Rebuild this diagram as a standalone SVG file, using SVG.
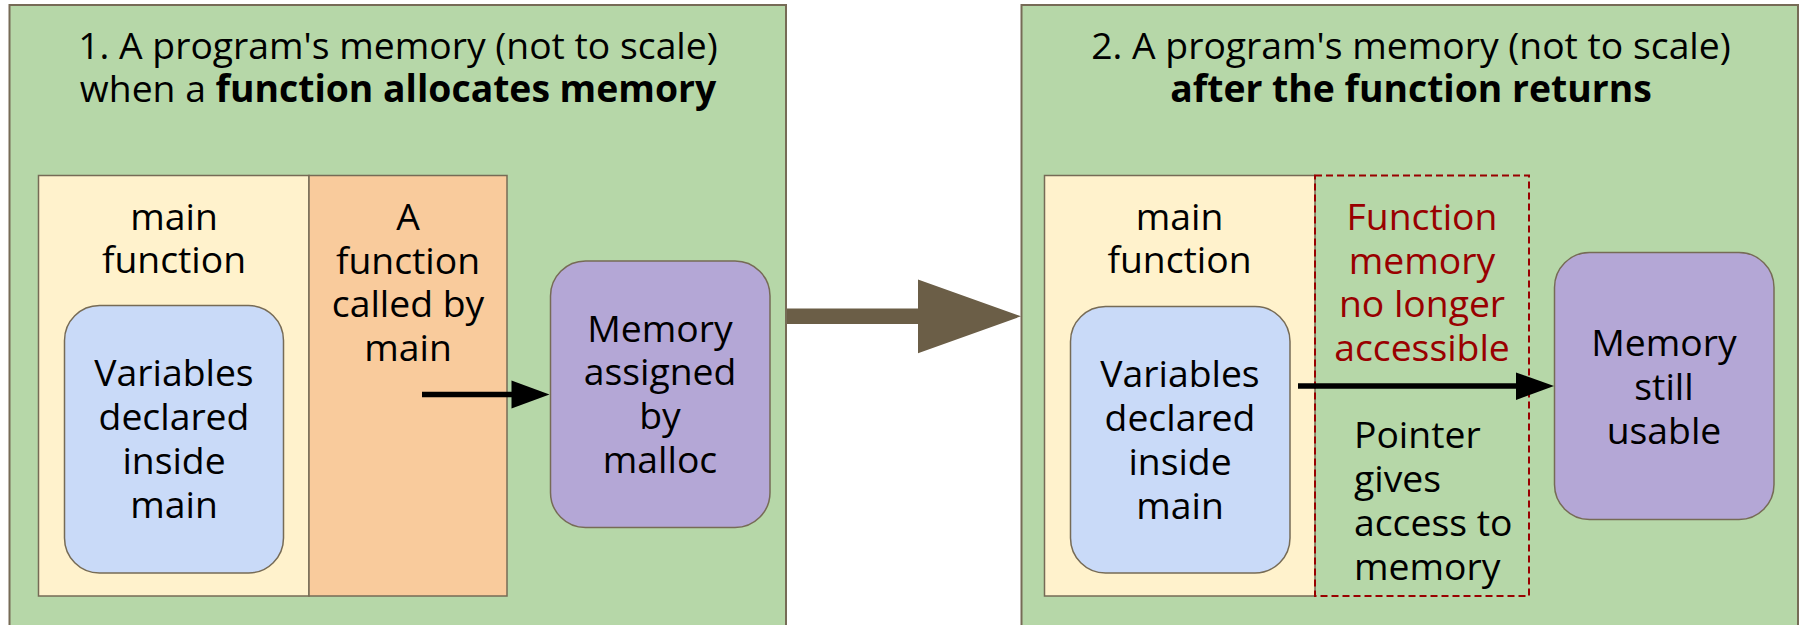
<svg xmlns="http://www.w3.org/2000/svg" width="1807" height="625" viewBox="0 0 1807 625">
<style>
.t{font-family:"Open Sans","Noto Sans","DejaVu Sans",sans-serif;font-size:37.3px;fill:#000;text-anchor:middle}
.b{font-weight:bold}
.red{fill:#990000}
.l{text-anchor:start}
.panel{fill:#b6d7a8;stroke:#766b56;stroke-width:2}
.box{stroke:#766b56;stroke-width:1.5}
</style>
<rect width="1807" height="625" fill="#ffffff"/>
<g id="panel1">
<rect class="panel" x="9.5" y="5" width="776.5" height="640"/>
<text class="t" x="398" y="59">1. A program's memory (not to scale)</text>
<text class="t" x="398" y="101.5">when a <tspan class="b">function allocates memory</tspan></text>
</g>
<g id="main1">
<rect class="box" x="38.5" y="175.5" width="270.5" height="420.5" fill="#fff2cc"/>
<text class="t" x="174" y="230">main</text>
<text class="t" x="174" y="273">function</text>
</g>
<g id="func1">
<rect class="box" x="309" y="175.5" width="198" height="420.5" fill="#f9cb9c"/>
<text class="t" x="408" y="230">A</text>
<text class="t" x="408" y="274">function</text>
<text class="t" x="408" y="317">called by</text>
<text class="t" x="408" y="361">main</text>
</g>
<g id="vars1">
<rect class="box" x="64.5" y="305.5" width="219" height="267.5" rx="35" ry="35" fill="#c9daf8"/>
<text class="t" x="174" y="386">Variables</text>
<text class="t" x="174" y="430">declared</text>
<text class="t" x="174" y="474">inside</text>
<text class="t" x="174" y="518">main</text>
</g>
<g id="malloc1">
<rect class="box" x="550.5" y="261" width="219.5" height="266.5" rx="35" ry="35" fill="#b4a7d6"/>
<text class="t" x="660" y="341.5">Memory</text>
<text class="t" x="660" y="385">assigned</text>
<text class="t" x="660" y="428.5">by</text>
<text class="t" x="660" y="472.5">malloc</text>
</g>
<g id="panel2">
<rect class="panel" x="1021.5" y="5" width="776.5" height="640"/>
<text class="t" x="1411" y="59">2. A program's memory (not to scale)</text>
<text class="t b" x="1411" y="101.5">after the function returns</text>
</g>
<g id="main2">
<rect class="box" x="1044.5" y="175.5" width="270.5" height="420.5" fill="#fff2cc"/>
<text class="t" x="1179.5" y="230">main</text>
<text class="t" x="1179.5" y="273">function</text>
</g>
<g id="func2">
<rect x="1315" y="175.5" width="214" height="420.5" fill="none" stroke="#990000" stroke-width="2" stroke-dasharray="7,4"/>
<text class="t red" x="1422" y="230">Function</text>
<text class="t red" x="1422" y="274">memory</text>
<text class="t red" x="1422" y="317">no longer</text>
<text class="t red" x="1422" y="361">accessible</text>
<text class="t l" x="1354" y="448">Pointer</text>
<text class="t l" x="1354" y="492">gives</text>
<text class="t l" x="1354" y="536">access to</text>
<text class="t l" x="1354" y="580">memory</text>
</g>
<g id="vars2">
<rect class="box" x="1070.5" y="306.5" width="219.5" height="266.5" rx="35" ry="35" fill="#c9daf8"/>
<text class="t" x="1180" y="387">Variables</text>
<text class="t" x="1180" y="430.5">declared</text>
<text class="t" x="1180" y="474.5">inside</text>
<text class="t" x="1180" y="518.5">main</text>
</g>
<g id="malloc2">
<rect class="box" x="1554.5" y="252.5" width="219.5" height="267" rx="35" ry="35" fill="#b4a7d6"/>
<text class="t" x="1664" y="356">Memory</text>
<text class="t" x="1664" y="399.5">still</text>
<text class="t" x="1664" y="443.5">usable</text>
</g>
<g id="connectors">
<line x1="422" y1="394.5" x2="513" y2="394.5" stroke="#000" stroke-width="5.5"/>
<polygon points="511.5,380.5 549.5,394.5 511.5,408.5" fill="#000"/>
<line x1="1298" y1="386" x2="1517" y2="386" stroke="#000" stroke-width="5.5"/>
<polygon points="1516,372.5 1554,386 1516,400" fill="#000"/>
<polygon points="787,308.5 918,308.5 918,279.5 1021,316.3 918,353.3 918,324 787,324" fill="#6b5e47"/>
</g>
</svg>
